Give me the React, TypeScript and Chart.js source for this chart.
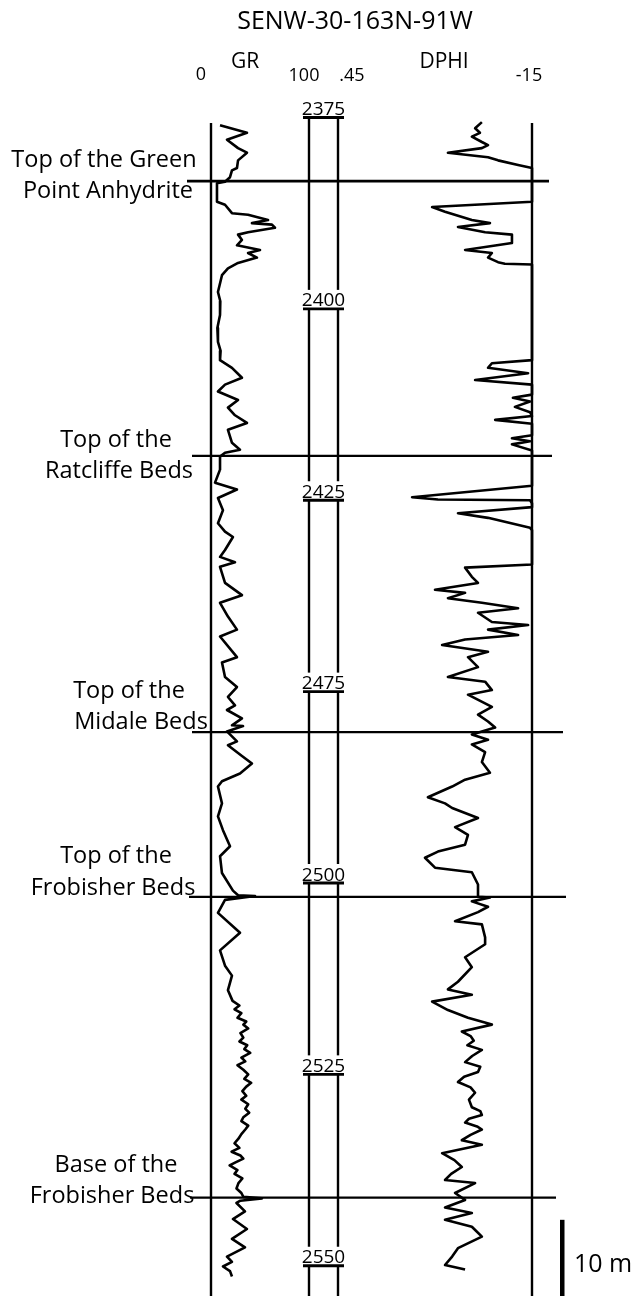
import React, { useEffect, useRef } from "react";
import { Chart, registerables } from "chart.js";

Chart.register(...registerables);

// ---- Well header ----
const wellName = "SENW-30-163N-91W";

// ---- Depth ruler (m) ----
const depthTickValues = [2375, 2400, 2425, 2450, 2475, 2500, 2525];
const depthTickLabels = ["2375", "2400", "2425", "2475", "2500", "2525", "2550"];

// ---- Formation tops (m) ----
const formationDepths = [2383.3, 2419.2, 2455.3, 2476.8, 2516.1];
const formationLabels = [
  ["Top of the Green", "Point Anhydrite"],
  ["Top of the", "Ratcliffe Beds"],
  ["Top of the", "Midale Beds"],
  ["Top of the", "Frobisher Beds"],
  ["Base of the", "Frobisher Beds"],
];

// ---- Gamma ray (API), depth / value pairs ----
const grDepths = [
  2376.0, 2377.0, 2377.9, 2379.0, 2379.6, 2380.6, 2381.6, 2381.9, 2382.8, 2383.4,
  2383.6, 2386.0, 2386.4, 2387.5, 2387.7, 2388.4, 2388.8, 2389.0, 2389.4, 2390.0,
  2390.3, 2391.0, 2391.7, 2392.3, 2392.7, 2393.3, 2394.0, 2394.7, 2395.6, 2397.8,
  2399.0, 2400.8, 2402.5, 2404.3, 2405.5, 2406.7, 2407.7, 2409.0, 2409.9, 2410.8,
  2411.9, 2412.9, 2413.9, 2414.9, 2415.8, 2417.5, 2418.4, 2418.8, 2419.3, 2421.0,
  2422.7, 2423.6, 2424.7, 2426.3, 2428.0, 2429.1, 2429.8, 2431.5, 2432.4, 2433.1,
  2433.7, 2435.8, 2437.4, 2438.4, 2440.2, 2441.9, 2442.8, 2445.5, 2446.2, 2448.1,
  2449.4, 2450.7, 2451.8, 2452.4, 2453.5, 2454.4, 2454.5, 2455.2, 2456.5, 2457.0,
  2458.4, 2459.4, 2460.7, 2461.7, 2462.4, 2464.6, 2466.3, 2468.1, 2470.2, 2471.5,
  2473.7, 2476.0, 2476.6, 2476.7, 2477.2, 2478.9, 2481.5, 2483.8, 2485.8, 2487.1,
  2489.0, 2490.4, 2491.0, 2491.5, 2492.0, 2492.6, 2493.1, 2493.5, 2494.0, 2494.6,
  2495.2, 2495.7, 2496.2, 2496.7, 2497.2, 2497.8, 2498.3, 2498.8, 2499.4, 2500.0,
  2500.6, 2501.1, 2501.6, 2502.2, 2502.8, 2503.3, 2503.9, 2504.5, 2505.0, 2505.6,
  2506.1, 2506.7, 2507.2, 2507.8, 2508.4, 2509.0, 2509.6, 2510.1, 2510.6, 2511.0,
  2511.5, 2511.9, 2512.5, 2513.0, 2513.6, 2514.2, 2514.9, 2515.5, 2516.0, 2516.2,
  2516.5, 2516.8, 2517.9, 2518.9, 2520.2, 2521.5, 2522.6, 2523.8, 2524.5, 2525.1,
  2525.7, 2526.4,
];
const grValues = [
  9.2, 36.7, 16.3, 27.6, 36.7, 27.6, 26.5, 21.4, 19.4, 14.3,
  6.1, 6.1, 14.3, 21.4, 37.8, 58.2, 41.8, 62.2, 65.3, 37.8,
  27.6, 31.6, 26.5, 50.0, 37.8, 46.9, 27.6, 17.3, 11.2, 7.1,
  9.5, 9.2, 6.5, 7.1, 9.8, 9.2, 21.4, 31.6, 14.3, 7.1,
  27.6, 17.3, 24.5, 36.7, 17.3, 21.4, 29.6, 14.3, 9.2, 9.2,
  4.1, 26.5, 7.1, 12.2, 7.1, 14.3, 22.4, 14.3, 9.2, 24.5,
  9.2, 14.3, 31.6, 9.2, 17.3, 26.5, 9.2, 26.5, 11.2, 14.3,
  26.5, 17.3, 24.5, 16.3, 31.6, 21.4, 32.7, 16.3, 26.5, 17.3,
  31.6, 41.8, 29.6, 11.2, 7.1, 11.2, 7.1, 12.2, 19.4, 9.2,
  11.2, 22.4, 27.6, 44.9, 14.3, 7.1, 29.6, 9.2, 14.3, 21.4,
  17.3, 22.0, 29.0, 24.0, 31.0, 27.0, 36.0, 33.0, 38.0, 30.0,
  33.0, 29.0, 37.0, 34.0, 40.0, 31.0, 35.0, 27.0, 33.0, 38.0,
  34.0, 41.0, 36.0, 32.0, 36.0, 31.0, 38.0, 35.0, 39.0, 33.0,
  31.0, 38.0, 35.0, 31.0, 28.0, 24.0, 29.0, 21.0, 30.0, 33.0,
  25.0, 19.0, 27.0, 24.0, 32.0, 28.0, 26.0, 31.0, 33.0, 52.0,
  30.0, 26.0, 34.7, 22.4, 36.7, 21.4, 34.7, 16.3, 21.4, 12.2,
  19.4, 21.4,
];

// ---- Density porosity (v/v), depth / value pairs ----
const dphiDepths = [
  2375.6, 2376.4, 2377.0, 2377.5, 2378.2, 2378.6, 2379.0, 2379.6, 2380.2, 2380.6,
  2381.2, 2381.6, 2386.0, 2386.7, 2387.3, 2388.4, 2388.8, 2389.3, 2390.0, 2390.3,
  2391.4, 2392.3, 2392.7, 2393.3, 2393.9, 2394.1, 2394.2, 2406.7, 2407.1, 2407.7,
  2408.4, 2409.3, 2409.9, 2411.2, 2411.6, 2412.1, 2412.8, 2413.5, 2414.0, 2414.5,
  2415.0, 2416.5, 2416.9, 2417.3, 2417.7, 2418.5, 2423.1, 2424.6, 2424.9, 2425.0,
  2425.4, 2425.9, 2426.7, 2427.3, 2428.6, 2428.9, 2433.4, 2433.8, 2435.0, 2435.8,
  2436.7, 2437.1, 2437.8, 2438.4, 2439.1, 2439.7, 2440.9, 2441.3, 2441.9, 2442.6,
  2443.2, 2443.9, 2444.8, 2445.5, 2446.8, 2448.1, 2448.7, 2449.8, 2450.4, 2452.0,
  2453.0, 2453.9, 2454.7, 2455.6, 2456.3, 2456.9, 2457.9, 2459.2, 2460.6, 2461.5,
  2462.4, 2463.8, 2464.6, 2465.2, 2466.5, 2467.7, 2468.7, 2470.0, 2470.9, 2471.7,
  2473.0, 2473.6, 2475.2, 2476.8, 2476.9, 2477.4, 2478.1, 2478.8, 2480.0, 2480.4,
  2482.1, 2483.0, 2484.7, 2486.0, 2487.9, 2488.9, 2489.6, 2490.5, 2491.6, 2492.6,
  2493.5, 2494.4, 2495.0, 2495.6, 2496.2, 2496.8, 2497.6, 2498.4, 2499.0, 2499.7,
  2500.3, 2501.0, 2501.7, 2502.4, 2503.3, 2504.3, 2504.8, 2505.3, 2505.8, 2506.3,
  2506.8, 2507.2, 2507.9, 2508.6, 2509.2, 2510.3, 2511.2, 2512.1, 2513.0, 2513.8,
  2514.2, 2515.5, 2516.4, 2517.4, 2518.1, 2519.0, 2519.9, 2521.2, 2522.7, 2523.8,
  2524.9, 2525.5,
];
const dphiValues = [
  0.005, 0.026, 0.011, 0.036, 0.005, -0.014, 0.005, 0.110, -0.014, -0.045,
  -0.107, -0.15, -0.15, 0.159, 0.119, 0.036, -0.020, 0.079, -0.005, -0.088,
  -0.088, 0.057, -0.026, -0.014, -0.045, -0.066, -0.15, -0.15, -0.026, -0.014,
  -0.138, 0.026, -0.15, -0.15, -0.091, -0.144, -0.097, -0.144, -0.15, -0.036,
  -0.15, -0.15, -0.088, -0.144, -0.088, -0.15, -0.15, 0.221, 0.141, -0.144,
  -0.15, -0.15, 0.079, -0.014, -0.144, -0.15, -0.15, 0.057, 0.036, 0.017,
  0.150, 0.057, 0.110, 0.005, -0.107, 0.017, -0.026, -0.138, -0.014, -0.107,
  0.057, 0.128, -0.014, 0.048, 0.017, 0.110, -0.005, -0.026, 0.048, -0.026,
  0.017, -0.014, -0.036, 0.036, -0.014, 0.036, -0.005, 0.005, -0.020, 0.057,
  0.097, 0.172, 0.119, 0.097, 0.017, 0.088, 0.048, 0.057, 0.141, 0.181,
  0.150, 0.036, 0.017, 0.017, -0.020, 0.036, -0.014, 0.017, 0.088, 0.005,
  -0.005, -0.005, 0.057, 0.036, 0.079, 0.110, 0.036, 0.159, 0.110, 0.048,
  -0.026, 0.067, 0.040, 0.030, 0.050, 0.005, 0.035, 0.057, 0.010, 0.017,
  0.060, 0.079, 0.040, 0.026, 0.045, 0.036, 0.010, 0.005, 0.045, 0.057,
  0.020, 0.005, 0.040, 0.067, 0.005, 0.128, 0.090, 0.067, 0.100, 0.119,
  0.026, 0.088, 0.057, 0.119, 0.036, 0.119, 0.036, 0.005, 0.079, 0.097,
  0.119, 0.057,
];

// ---- Track scales ----
const GR_MIN = 0;
const GR_MAX = 100;
const DPHI_LEFT = 0.45;
const DPHI_RIGHT = -0.15;
const SCALE_BAR_M = 10;
const scaleBarTopDepth = 2519;

// ---- Page layout (px) ----
const W = 639;
const H = 1296;
const GR_LEFT_PX = 211;
const GR_RIGHT_PX = 309;
const DPHI_LEFT_PX = 338;
const DPHI_RIGHT_PX = 532;
const TRACK_TOP_PX = 123;
const FIRST_TICK_PX = 117.5;
const PX_PER_M = 7.655;
const FONT = '"Open Sans", "DejaVu Sans", sans-serif';

const formationLineSpan = [
  [187, 549],
  [192, 552],
  [192, 563],
  [189, 566],
  [190, 556],
];
const formationLabelPos = [
  [[104, 160], [108, 191]],
  [[116, 440], [119, 471]],
  [[129, 691], [141, 722]],
  [[116, 856], [113, 888]],
  [[116, 1165], [112, 1196]],
];

const grPerPx = (GR_MAX - GR_MIN) / (GR_RIGHT_PX - GR_LEFT_PX);
const dphiPerPx = (DPHI_LEFT - DPHI_RIGHT) / (DPHI_RIGHT_PX - DPHI_LEFT_PX);
const depthTop = depthTickValues[0] - FIRST_TICK_PX / PX_PER_M;
const depthBottom = depthTickValues[0] + (H - FIRST_TICK_PX) / PX_PER_M;

const zip = (ys: number[], xs: number[]) => ys.map((y, i) => ({ x: xs[i], y }));

const decorPlugin = {
  id: "wellLogDecor",
  beforeDraw(chart: any) {
    const { ctx } = chart;
    ctx.save();
    ctx.fillStyle = "#fff";
    ctx.fillRect(0, 0, W, H);
    ctx.restore();
  },
  beforeDatasetsDraw(chart: any) {
    const { ctx } = chart;
    const yS = chart.scales.y;
    ctx.save();
    ctx.strokeStyle = "#000";
    ctx.fillStyle = "#000";
    ctx.lineCap = "butt";

    // outer track borders
    ctx.lineWidth = 2.4;
    [GR_LEFT_PX, DPHI_RIGHT_PX].forEach((x) => {
      ctx.beginPath();
      ctx.moveTo(x, TRACK_TOP_PX);
      ctx.lineTo(x, H);
      ctx.stroke();
    });

    // depth track: segmented column with labelled caps
    const caps = depthTickValues.map((d) => yS.getPixelForValue(d));
    caps.forEach((cy, i) => {
      const end = i < caps.length - 1 ? caps[i + 1] - 19 : H;
      ctx.lineWidth = 2.4;
      [GR_RIGHT_PX, DPHI_LEFT_PX].forEach((x) => {
        ctx.beginPath();
        ctx.moveTo(x, cy);
        ctx.lineTo(x, end);
        ctx.stroke();
      });
      ctx.lineWidth = 2.8;
      ctx.beginPath();
      ctx.moveTo(GR_RIGHT_PX - 6, cy);
      ctx.lineTo(DPHI_LEFT_PX + 6, cy);
      ctx.stroke();
      ctx.font = `19px ${FONT}`;
      ctx.textAlign = "center";
      ctx.textBaseline = "alphabetic";
      ctx.fillText(depthTickLabels[i], (GR_RIGHT_PX + DPHI_LEFT_PX) / 2, cy - 2.5);
    });

    // formation tops
    formationDepths.forEach((d, i) => {
      const y = yS.getPixelForValue(d);
      ctx.lineWidth = i === 0 ? 2.8 : 2.2;
      ctx.beginPath();
      ctx.moveTo(formationLineSpan[i][0], y);
      ctx.lineTo(formationLineSpan[i][1], y);
      ctx.stroke();
    });

    // 10 m scale bar
    const b0 = yS.getPixelForValue(scaleBarTopDepth);
    const b1 = yS.getPixelForValue(scaleBarTopDepth + SCALE_BAR_M);
    ctx.fillRect(560, b0, 4.5, b1 - b0);
    ctx.restore();
  },
  afterDraw(chart: any) {
    const { ctx } = chart;
    const yS = chart.scales.y;
    ctx.save();
    ctx.fillStyle = "#000";
    ctx.textAlign = "center";
    ctx.textBaseline = "middle";

    ctx.font = `25px ${FONT}`;
    ctx.fillText(wellName, 355, 22);

    ctx.font = `21px ${FONT}`;
    ctx.fillText("GR", 245, 62);
    ctx.fillText("DPHI", 444, 62);

    ctx.font = `18px ${FONT}`;
    ctx.fillText(String(GR_MIN), 201, 75);
    ctx.fillText(String(GR_MAX), 304, 76);
    ctx.fillText(".45", 352, 76);
    ctx.fillText(String(DPHI_RIGHT * 100), 529, 76);

    ctx.font = `23.5px ${FONT}`;
    formationLabels.forEach((lines, i) => {
      lines.forEach((t, j) => {
        const [x, y] = formationLabelPos[i][j];
        ctx.fillText(t, x, y);
      });
    });

    const b0 = yS.getPixelForValue(scaleBarTopDepth);
    ctx.font = `25px ${FONT}`;
    ctx.textAlign = "left";
    ctx.fillText(`${SCALE_BAR_M} m`, 574, b0 + 45);
    ctx.restore();
  },
};

export default function App() {
  const ref = useRef<HTMLCanvasElement | null>(null);

  useEffect(() => {
    if (!ref.current) return;
    const chart = new Chart(ref.current, {
      type: "scatter",
      data: {
        datasets: [
          {
            label: "GR",
            data: zip(grDepths, grValues),
            xAxisID: "xGR",
            yAxisID: "y",
            showLine: true,
            borderColor: "#000",
            borderWidth: 2.6,
            borderJoinStyle: "round",
            pointRadius: 0,
            tension: 0,
          },
          {
            label: "DPHI",
            data: zip(dphiDepths, dphiValues),
            xAxisID: "xDPHI",
            yAxisID: "y",
            showLine: true,
            borderColor: "#000",
            borderWidth: 2.6,
            borderJoinStyle: "round",
            pointRadius: 0,
            tension: 0,
          },
        ],
      },
      options: {
        responsive: false,
        animation: false,
        events: [],
        layout: { padding: 0 },
        plugins: { legend: { display: false }, tooltip: { enabled: false } },
        scales: {
          xGR: {
            type: "linear",
            display: false,
            min: GR_MIN - GR_LEFT_PX * grPerPx,
            max: GR_MIN + (W - GR_LEFT_PX) * grPerPx,
          },
          xDPHI: {
            type: "linear",
            display: false,
            reverse: true,
            min: DPHI_LEFT - (W - DPHI_LEFT_PX) * dphiPerPx,
            max: DPHI_LEFT + DPHI_LEFT_PX * dphiPerPx,
          },
          y: {
            type: "linear",
            display: false,
            reverse: true,
            min: depthTop,
            max: depthBottom,
          },
        },
      },
      plugins: [decorPlugin],
    });
    return () => chart.destroy();
  }, []);

  return (
    <div style={{ position: "absolute", left: 0, top: 0, width: W, height: H, background: "#fff" }}>
      <canvas ref={ref} width={W} height={H} style={{ display: "block" }} />
    </div>
  );
}
